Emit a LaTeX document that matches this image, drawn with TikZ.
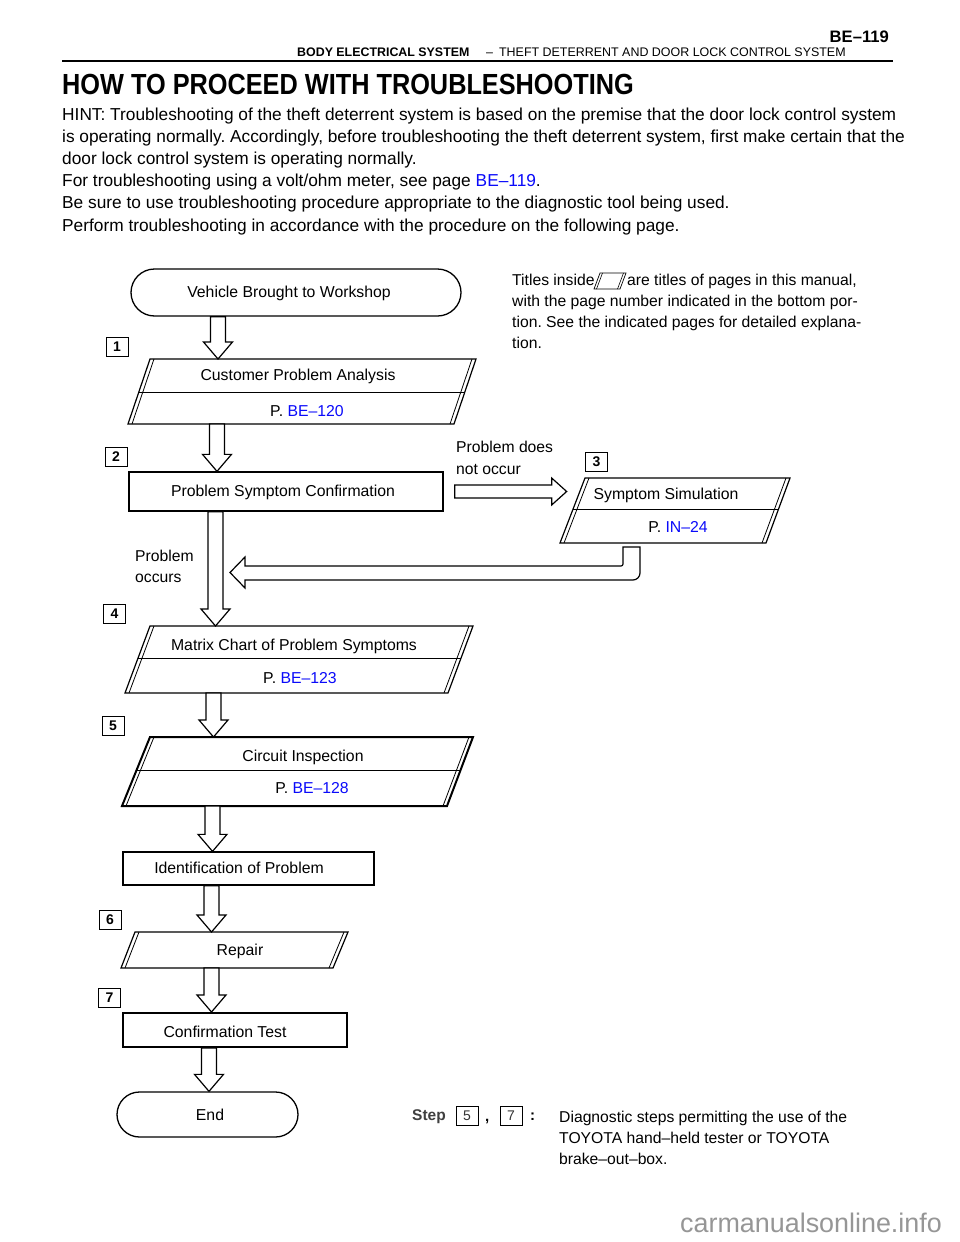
\documentclass[tikz,border=0pt]{standalone}
\usepackage{fontspec}
\setmainfont{Liberation Sans}
\usetikzlibrary{calc,shapes.misc}
\definecolor{lnk}{RGB}{10,10,250}
\definecolor{wm}{RGB}{150,150,150}
\newcommand\fs[1]{\fontsize{#1}{#1}\selectfont}
\frenchspacing
\tikzset{
  txt/.style={anchor=base west, inner sep=0pt, font=\fs{17.3}},
  ntxt/.style={anchor=base west, inner sep=0pt, font=\fs{15.7}},
  ctext/.style={inner sep=0pt, text height=11.4pt, text depth=0pt, font=\fs{15.8}},
  stepnum/.style={draw, line width=1pt, minimum width=22pt, minimum height=19pt, inner sep=0pt, font=\bfseries\fs{14}},
  harrow/.style={draw, line width=1.2pt, fill=white, line join=miter},
  boxline/.style={line width=1.3pt},
}
\newcommand\hdown[3]{%
  \draw[harrow] let \p1=(#1,0 |- #2), \p2=(#1,0 |- #3) in
  (\x1-7.5pt,\y1) -- (\x1-7.5pt,\y2+17pt) -- (\x1-14.5pt,\y2+17pt) -- (\x2,\y2)
  -- (\x1+14.5pt,\y2+17pt) -- (\x1+7.5pt,\y2+17pt) -- (\x1+7.5pt,\y1) -- cycle;}
% name, tlx, trx, ty, blx, brx, by, outer line width
\newcommand\dpara[8]{%
  \coordinate (#1tl) at (#2,#4); \coordinate (#1tr) at (#3,#4);
  \coordinate (#1bl) at (#5,#7); \coordinate (#1br) at (#6,#7);
  \draw[line width=#8, fill=white] (#1tl) -- (#1tr) -- (#1br) -- (#1bl) -- cycle;
  \draw[line width=0.8pt] ([xshift=4pt]#1tl) -- ([xshift=4pt]#1bl);
  \draw[line width=0.8pt] ([xshift=-4pt]#1tr) -- ([xshift=-4pt]#1br);}
\newcommand\pdiv[2]{\draw[line width=1pt] ($(#1tl)!#2!(#1bl)$) -- ($(#1tr)!#2!(#1br)$);}
\begin{document}
\begin{tikzpicture}[x=1pt,y=-1pt]
\useasboundingbox[fill=white] (0,0) rectangle (960,1242);

% header
\node[anchor=base east, inner sep=0pt, font=\bfseries\fs{16.6}] (pgno) at (889,42) {BE–119};
\node[anchor=base west, inner sep=0pt, font=\bfseries\fs{12.4}] (sect) at (297,56) {BODY ELECTRICAL SYSTEM};
\node[anchor=base west, inner sep=0pt, font=\fs{12.45}] (subs) at (486,56) {–\hspace{6pt}THEFT DETERRENT AND DOOR LOCK CONTROL SYSTEM};
\draw[line width=1.5pt] (62,61) coordinate (rl) -- (893,61) coordinate (rr);

% title and text
\node[anchor=base west, inner sep=0pt, font=\bfseries\fs{25.3}] (title) at (62,94.5) {\scalebox{1}[1.15]{HOW TO PROCEED WITH TROUBLESHOOTING}};
\node[txt] (p1) at (62,120) {HINT: Troubleshooting of the theft deterrent system is based on the premise that the door lock control system};
\node[txt] (p2) at (62,142) {is operating normally. Accordingly, before troubleshooting the theft deterrent system, first make certain that the};
\node[txt] (p3) at (62,164) {door lock control system is operating normally.};
\node[txt] (p4) at (62,186) {For troubleshooting using a volt/ohm meter, see page \textcolor{lnk}{BE–119}.};
\node[txt] (p5) at (62,208) {Be sure to use troubleshooting procedure appropriate to the diagnostic tool being used.};
\node[txt] (p6) at (62,231) {Perform troubleshooting in accordance with the procedure on the following page.};

% note top right
\node[ntxt] (n1a) at (512,285) {Titles inside};
\coordinate (icl) at (594,289);
\draw[line width=0.7pt] (600,273) -- (626,273) -- (620,289) -- (594,289) -- cycle;
\draw[line width=0.6pt] (602.5,273) -- (596.5,289);
\draw[line width=0.6pt] (623.5,273) -- (617.5,289);
\node[ntxt] (n1b) at (627,285) {are titles of pages in this manual,};
\node[ntxt] (n2) at (512,306) {with the page number indicated in the bottom por-};
\node[ntxt] (n3) at (512,327) {tion. See the indicated pages for detailed explana-};
\node[ntxt] (n4) at (512,348) {tion.};

% start terminal
\node[draw, rounded rectangle, boxline, minimum width=330pt, minimum height=47pt, inner sep=0pt] (start) at (296,292.5) {};
\node[ctext] (startt) at (289,292) {Vehicle Brought to Workshop};

% 1 customer problem analysis
\node[stepnum] (s1) at (117,346.5) {1};
\dpara{cpa}{150}{476}{359}{128}{454}{424}{1.2pt}
\pdiv{cpa}{0.51}
\node[ctext] (cpat) at (298,375) {Customer Problem Analysis};
\node[ctext] (cpap) at (307,411) {P. \textcolor{lnk}{BE–120}};
\hdown{218}{start.south}{cpatl}

% 2 problem symptom confirmation
\node[stepnum] (s2) at (116,456.5) {2};
\node[draw, boxline, minimum width=314pt, minimum height=39pt, inner sep=0pt] (psc) at (286,491.5) {};
\node[ctext] (psct) at (283,491) {Problem Symptom Confirmation};
\hdown{217}{cpabl}{psc.north}

% 3 symptom simulation
\node[ntxt] (pdn1) at (456,452) {Problem does};
\node[ntxt] (pdn2) at (456,474) {not occur};
\node[stepnum] (s3) at (596.5,461.5) {3};
\dpara{ss}{585}{790}{478}{560}{766}{543}{1.2pt}
\pdiv{ss}{0.49}
\node[ctext] (sst) at (666,494) {Symptom Simulation};
\node[ctext] (ssp) at (678,527) {P. \textcolor{lnk}{IN–24}};
\draw[harrow] let \p1=(psc.east) in
  (\x1+11pt,\y1+6.5pt) -- (\x1+108pt,\y1+6.5pt) -- (\x1+108pt,\y1+13.5pt) -- (\x1+123pt,\y1)
  -- (\x1+108pt,\y1-13.5pt) -- (\x1+108pt,\y1-6.5pt) -- (\x1+11pt,\y1-6.5pt) -- cycle;

% return arrow from symptom simulation
\coordinate (rtop) at (631.5,0 |- ssbl);
\draw[harrow] let \p1=(rtop) in
  (\x1-8.5pt,\y1-4pt) -- (\x1+8.5pt,\y1-4pt) [rounded corners=7pt] -- (\x1+8.5pt,\y1-37pt) [sharp corners]
  -- (245,580) -- (245,588) -- (230,572.5) -- (245,557) -- (245,566)
  [rounded corners=2pt] -- (\x1-8.5pt,\y1-23pt) [sharp corners] -- cycle;

% 4 matrix chart
\node[ntxt] (po1) at (135,561) {Problem};
\node[ntxt] (po2) at (135,582) {occurs};
\node[stepnum] (s4) at (114.5,613.5) {4};
\dpara{mc}{150}{473}{626}{125}{448}{693}{1.2pt}
\pdiv{mc}{0.49}
\node[ctext] (mct) at (294,645) {Matrix Chart of Problem Symptoms};
\node[ctext] (mcp) at (300,678) {P. \textcolor{lnk}{BE–123}};
\hdown{215.5}{psc.south}{mctl}

% 5 circuit inspection
\node[stepnum] (s5) at (113,725.5) {5};
\dpara{ci}{150}{473}{737}{122}{447}{806}{2pt}
\pdiv{ci}{0.48}
\node[ctext] (cit) at (303,756) {Circuit Inspection};
\node[ctext] (cip) at (312,788) {P. \textcolor{lnk}{BE–128}};
\hdown{213.5}{mcbl}{citl}

% identification of problem
\node[draw, boxline, minimum width=251pt, minimum height=33pt, inner sep=0pt] (idp) at (248.5,868.5) {};
\node[ctext] (idpt) at (239,868) {Identification of Problem};
\hdown{212.5}{cibl}{idp.north}

% 6 repair
\node[stepnum] (s6) at (110,919.5) {6};
\dpara{rp}{135}{348}{932}{121}{333}{968}{1.2pt}
\node[ctext] (rpt) at (240,950) {Repair};
\hdown{211.5}{idp.south}{rptl}

% 7 confirmation test
\node[stepnum] (s7) at (109.5,997.5) {7};
\node[draw, line width=2pt, minimum width=224pt, minimum height=34pt, inner sep=0pt] (ct) at (235,1030) {};
\node[ctext] (ctt) at (225,1032) {Confirmation Test};
\hdown{211.5}{rpbl}{ct.north}

% end
\node[draw, rounded rectangle, boxline, minimum width=181pt, minimum height=45pt, inner sep=0pt] (fin) at (207.5,1114.5) {};
\node[ctext] (fint) at (210,1115) {End};
\hdown{209}{ct.south}{fin.north}

% legend
\node[anchor=base west, inner sep=0pt, font=\bfseries\fs{15.5}, text=black!75] (stp) at (412,1120) {Step};
\node[stepnum, line width=0.7pt, font=\fs{14}, text=black!80] (l5) at (467,1116) {5};
\node[anchor=base west, inner sep=0pt, font=\bfseries\fs{15}] (cm) at (485,1121) {,};
\node[stepnum, line width=0.7pt, font=\fs{14}, text=black!80] (l7) at (511,1116) {7};
\node[anchor=base west, inner sep=0pt, font=\bfseries\fs{15}] (cl) at (530,1120) {:};
\node[ntxt] (lg1) at (559,1122) {Diagnostic steps permitting the use of the};
\node[ntxt] (lg2) at (559,1143) {TOYOTA hand–held tester or TOYOTA};
\node[ntxt] (lg3) at (559,1164) {brake–out–box.};

% watermark
\node[anchor=base west, inner sep=0pt, font=\fs{26.9}, text=wm] (wmk) at (680,1232) {carmanualsonline.info};
\end{tikzpicture}
\end{document}
